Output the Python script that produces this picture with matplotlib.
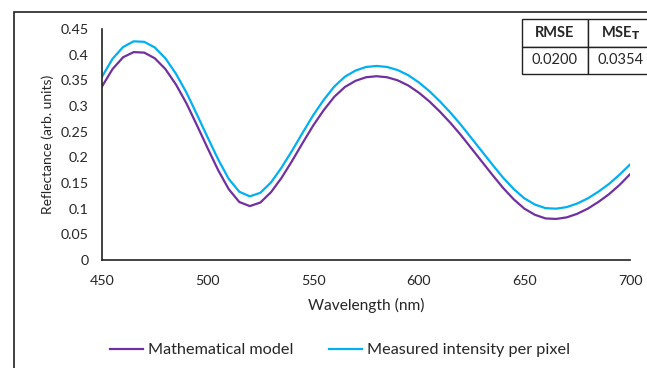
import matplotlib
matplotlib.use("Agg")
import matplotlib.pyplot as plt
from matplotlib.patches import Rectangle

# Data (5 nm steps)
wavelength = list(range(450, 701, 5))
model = [0.338, 0.372, 0.395, 0.405, 0.404, 0.393, 0.372, 0.342, 0.305, 0.262,
         0.218, 0.175, 0.138, 0.113, 0.105, 0.112, 0.132, 0.160, 0.193, 0.228,
         0.262, 0.292, 0.318, 0.337, 0.349, 0.356, 0.358, 0.356, 0.350, 0.340,
         0.326, 0.309, 0.289, 0.267, 0.243, 0.217, 0.191, 0.165, 0.140, 0.118,
         0.100, 0.088, 0.081, 0.080, 0.083, 0.090, 0.100, 0.113, 0.128, 0.146,
         0.167]
measured = [0.357, 0.392, 0.415, 0.426, 0.425, 0.414, 0.393, 0.363, 0.326, 0.283,
            0.239, 0.196, 0.158, 0.133, 0.124, 0.131, 0.151, 0.180, 0.213, 0.248,
            0.282, 0.312, 0.338, 0.357, 0.369, 0.376, 0.378, 0.376, 0.370, 0.360,
            0.346, 0.329, 0.309, 0.287, 0.263, 0.237, 0.211, 0.185, 0.160, 0.138,
            0.120, 0.108, 0.101, 0.100, 0.103, 0.110, 0.120, 0.133, 0.148, 0.166,
            0.186]
x_ticks = [450, 500, 550, 600, 650, 700]
y_ticks = [0, 0.05, 0.1, 0.15, 0.2, 0.25, 0.3, 0.35, 0.4, 0.45]
table_header = ["RMSE", r"MSE$_\mathbf{T}$"]
table_values = ["0.0200", "0.0354"]

plt.rcParams['font.family'] = ['Lato', 'DejaVu Sans']

W, H = 647, 368
fig = plt.figure(figsize=(W / 100, H / 100), dpi=100, facecolor='white')
ax = fig.add_axes([102 / W, 1 - 260 / H, 528 / W, 231 / H])

ax.plot(wavelength, model, color='#7030A0', linewidth=1.6, label='Mathematical model')
ax.plot(wavelength, measured, color='#00B0F0', linewidth=1.6, label='Measured intensity per pixel')

ax.set_xlim(450, 700)
ax.set_ylim(0, 0.45)
ax.set_xticks(x_ticks)
ax.set_yticks(y_ticks)
ax.set_yticklabels([f"{v:g}" for v in y_ticks])
ax.tick_params(length=0, labelsize=10.3, colors='#262626')
ax.tick_params(axis='y', pad=9.5)
ax.tick_params(axis='x', pad=11)
for s in ['top', 'right']:
    ax.spines[s].set_visible(False)
for s in ['left', 'bottom']:
    ax.spines[s].set_color('#222222')
    ax.spines[s].set_linewidth(1.2)

ax.set_xlabel("Wavelength (nm)", fontsize=11.2, labelpad=8, color='#262626')
ax.set_ylabel("Reflectance (arb. units)", fontsize=10, labelpad=5, color='#262626')

fig.legend(loc='center', bbox_to_anchor=(340 / W, 1 - 350 / H), ncol=2, frameon=False,
           fontsize=11.7, handlelength=2.0, handletextpad=0.3, columnspacing=2.25,
           labelcolor='#262626')

# Metrics table
tax = fig.add_axes([522 / W, 1 - 74 / H, 132 / W, 55 / H])
tax.axis('off')
tbl = tax.table(cellText=[table_header, table_values], cellLoc='center', bbox=[0, 0, 1, 1])
tbl.auto_set_font_size(False)
for (r, c), cell in tbl.get_celld().items():
    cell.set_linewidth(1.0)
    cell.set_edgecolor('#222222')
    cell.get_text().set_fontsize(10.5)
    cell.get_text().set_color('#262626')
    if r == 0:
        cell.get_text().set_fontweight('bold')

# Outer chart frame
fig.add_artist(Rectangle((14 / W, -0.1), 1.2, 1.1 - 12 / H, transform=fig.transFigure,
                         fill=False, edgecolor='#222222', linewidth=1.2))

fig.savefig("out.png", dpi=100)
